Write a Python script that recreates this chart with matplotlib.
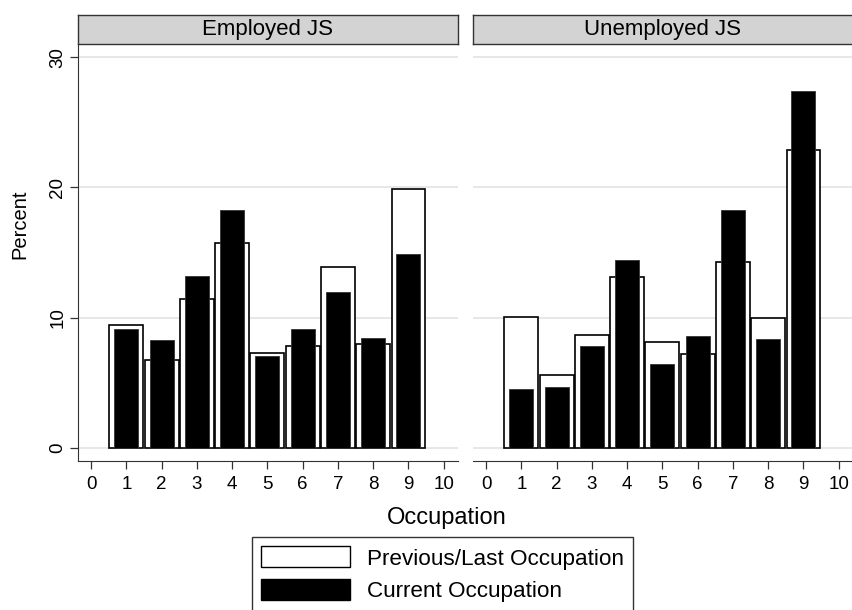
import matplotlib
matplotlib.use("Agg")
from matplotlib import pyplot as plt
from matplotlib.patches import Patch
import numpy as np

plt.rcParams['font.family'] = ['Liberation Sans', 'DejaVu Sans']

occupations = [1, 2, 3, 4, 5, 6, 7, 8, 9]
panels = ["Employed JS", "Unemployed JS"]

# Percent by occupation
prev_employed = [9.4, 6.75, 11.4, 15.7, 7.25, 7.8, 13.85, 8.0, 19.9]
curr_employed = [9.15, 8.3, 13.2, 18.3, 7.05, 9.15, 11.95, 8.4, 14.9]
prev_unemployed = [10.05, 5.55, 8.65, 13.15, 8.15, 7.2, 14.25, 10.0, 22.9]
curr_unemployed = [4.5, 4.65, 7.8, 14.45, 6.4, 8.6, 18.3, 8.35, 27.4]

prev_vals = [prev_employed, prev_unemployed]
curr_vals = [curr_employed, curr_unemployed]

W, H = 852, 610
fig = plt.figure(figsize=(W / 100, H / 100), dpi=100)

ax_left = [78, 473]
ax_w = 379.5
ax_top, ax_bot = 44.3, 461
strip_top = 15

for i in range(2):
    ax = fig.add_axes([ax_left[i] / W, (H - ax_bot) / H, ax_w / W, (ax_bot - ax_top) / H])

    # Previous occupation: hollow bars, current: narrower black bars on top
    ax.bar(occupations, prev_vals[i], width=0.96, color='white',
           edgecolor='black', linewidth=1.2, zorder=2)
    ax.bar(occupations, curr_vals[i], width=0.68, color='black',
           edgecolor='#333333', linewidth=0.6, zorder=3)

    ax.set_xlim(-0.37, 10.39)
    ax.set_ylim(-1.02, 31.0)
    ax.set_xticks(np.arange(0, 11, 1))
    ax.set_yticks([0, 10, 20, 30])
    ax.grid(axis='y', color='#e0e0e0', linewidth=1.1, zorder=0)
    ax.set_axisbelow(True)

    for s in ['top', 'right']:
        ax.spines[s].set_visible(False)
    ax.spines['bottom'].set_color('#333333')
    ax.spines['left'].set_color('#333333')
    ax.tick_params(axis='x', length=5.8, width=0.9, color='#333333',
                   labelsize=13.5, pad=4.7)
    if i == 0:
        ax.tick_params(axis='y', length=5.8, width=0.9, color='#333333',
                       labelsize=13.5, pad=2.7)
        plt.setp(ax.get_yticklabels(), rotation=90, va='center')
    else:
        ax.spines['left'].set_visible(False)
        ax.tick_params(axis='y', length=0, labelleft=False)

    # Panel strip
    sax = fig.add_axes([ax_left[i] / W, (H - ax_top) / H, ax_w / W, (ax_top - strip_top) / H])
    sax.set_facecolor('#d3d3d3')
    sax.set_xticks([])
    sax.set_yticks([])
    for s in sax.spines.values():
        s.set_color('#333333')
        s.set_linewidth(1.0)
    sax.text(0.5, 0.5, panels[i], ha='center', va='center', fontsize=16,
             transform=sax.transAxes)

fig.text(20 / W, (H - 224) / H, "Percent", rotation=90, ha='center', va='center', fontsize=14.5)
fig.text(447 / W, (H - 518) / H, "Occupation", ha='center', va='center', fontsize=17)

handles = [Patch(facecolor='white', edgecolor='black', linewidth=1.0),
           Patch(facecolor='black', edgecolor='black', linewidth=1.0)]
leg = fig.legend(handles, ["Previous/Last Occupation", "Current Occupation"],
                 loc='upper left', bbox_to_anchor=(252 / W, (H - 537.3) / H),
                 fontsize=16.2, frameon=True, fancybox=False,
                 handlelength=3.96, handleheight=1.07, labelspacing=0.42,
                 handletextpad=0.74, borderpad=0.4, borderaxespad=0)
leg.get_frame().set_edgecolor('black')
leg.get_frame().set_linewidth(1.0)

plt.savefig("out.png", dpi=100)
